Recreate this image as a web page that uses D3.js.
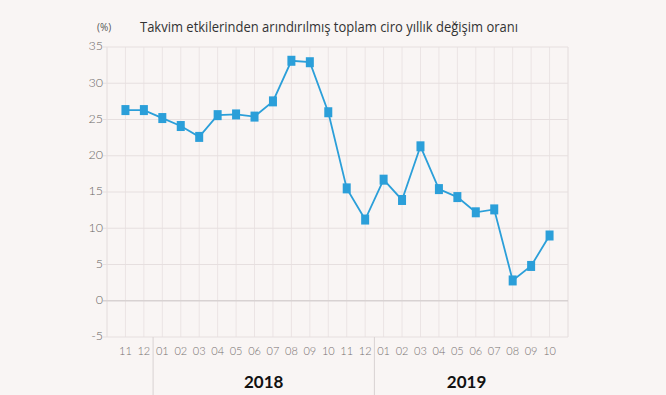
<!DOCTYPE html>
<html lang="tr">
<head>
<meta charset="UTF-8">
<title>Ciro yıllık değişim</title>
<script src="https://cdn.jsdelivr.net/npm/d3@7"></script>
<style>
  body { margin: 0; background: #f9f5f4; }
  svg { display: block; }
</style>
</head>
<body>
<div id="chart"></div>
<script>
// month labels, Nov 2017 .. Oct 2019
const months = ["11","12","01","02","03","04","05","06","07","08","09","10","11","12",
                "01","02","03","04","05","06","07","08","09","10"];
const values = [26.3, 26.3, 25.2, 24.1, 22.6, 25.6, 25.7, 25.4, 27.5, 33.1, 32.9, 26.0,
                15.5, 11.2, 16.7, 13.9, 21.3, 15.4, 14.3, 12.2, 12.6, 2.8, 4.8, 9.0];
const yTicks = [-5, 0, 5, 10, 15, 20, 25, 30, 35];
const years = [{ label: "2018", from: 2, to: 13 }, { label: "2019", from: 14, to: 23 }];
const title = "Takvim etkilerinden arındırılmış toplam ciro yıllık değişim oranı";

const W = 666, H = 395;
const plot = { left: 107, right: 568, top: 47, bottom: 337 };

const svg = d3.select("#chart").append("svg")
    .attr("width", W).attr("height", H);

svg.append("rect").attr("width", W).attr("height", H).attr("fill", "#f9f5f4");

const idx = months.map((m, i) => i);
const x = d3.scalePoint().domain(idx).range([plot.left, plot.right]).padding(1);
const y = d3.scaleLinear().domain([-5, 35]).range([plot.bottom, plot.top]);

// vertical grid
svg.append("g").selectAll("line")
    .data(idx).join("line")
    .attr("x1", d => x(d)).attr("x2", d => x(d))
    .attr("y1", plot.top).attr("y2", plot.bottom)
    .attr("stroke", "#ebe4e4").attr("stroke-width", 1);

svg.append("g").selectAll("line")
    .data([plot.left, plot.right]).join("line")
    .attr("x1", d => d).attr("x2", d => d)
    .attr("y1", plot.top).attr("y2", plot.bottom)
    .attr("stroke", "#e3dcdc");

// horizontal grid
svg.append("g").selectAll("line")
    .data(yTicks).join("line")
    .attr("x1", plot.left - 4).attr("x2", plot.right)
    .attr("y1", d => y(d)).attr("y2", d => y(d))
    .attr("stroke", d => d === 0 ? "#d8d2d2" : "#e6dfdf")
    .attr("stroke-width", d => d === 0 ? 1.5 : 1);

// y labels
svg.append("g").selectAll("text")
    .data(yTicks).join("text")
    .attr("x", plot.left - 4).attr("y", d => y(d) - 1)
    .attr("dy", "0.35em")
    .attr("text-anchor", "end")
    .attr("font-family", "Lato, sans-serif")
    .attr("font-weight", 300)
    .attr("font-size", 12.5)
    .attr("fill", "#6a6565")
    .text(d => d);

// month labels
svg.append("g").selectAll("text")
    .data(idx).join("text")
    .attr("x", d => x(d)).attr("y", 351)
    .attr("dy", "0.35em")
    .attr("text-anchor", "middle")
    .attr("font-family", "Lato, sans-serif")
    .attr("font-weight", 300)
    .attr("font-size", 11)
    .attr("fill", "#777171")
    .text(d => months[d]);

// year separators and labels
const step = x.step();
svg.append("g").selectAll("line")
    .data(years).join("line")
    .attr("x1", d => x(d.from) - step / 2).attr("x2", d => x(d.from) - step / 2)
    .attr("y1", plot.bottom).attr("y2", H)
    .attr("stroke", "#d8d2d2");

svg.append("g").selectAll("text")
    .data(years).join("text")
    .attr("x", d => (x(d.from) + x(d.to)) / 2)
    .attr("y", 388)
    .attr("text-anchor", "middle")
    .attr("font-family", "Lato, sans-serif")
    .attr("font-weight", "bold")
    .attr("font-size", 17)
    .attr("fill", "#111")
    .text(d => d.label);

// line
const line = d3.line().x((d, i) => x(i)).y(d => y(d));
svg.append("path")
    .datum(values)
    .attr("fill", "none")
    .attr("stroke", "#2b9fd9")
    .attr("stroke-width", 1.8)
    .attr("d", line);

svg.append("g").selectAll("rect")
    .data(values).join("rect")
    .attr("x", (d, i) => x(i) - 4)
    .attr("y", d => y(d) - 5)
    .attr("width", 8).attr("height", 10)
    .attr("fill", "#2b9fd9");

// title
svg.append("text")
    .attr("x", 97).attr("y", 31)
    .attr("font-family", "Open Sans, sans-serif")
    .attr("font-size", 10)
    .attr("fill", "#555")
    .text("(%)");

svg.append("text")
    .attr("x", 140).attr("y", 32)
    .attr("font-family", "Open Sans, sans-serif")
    .attr("font-size", 14)
    .attr("fill", "#333")
    .attr("textLength", 378)
    .attr("lengthAdjust", "spacingAndGlyphs")
    .text(title);
</script>
</body>
</html>
